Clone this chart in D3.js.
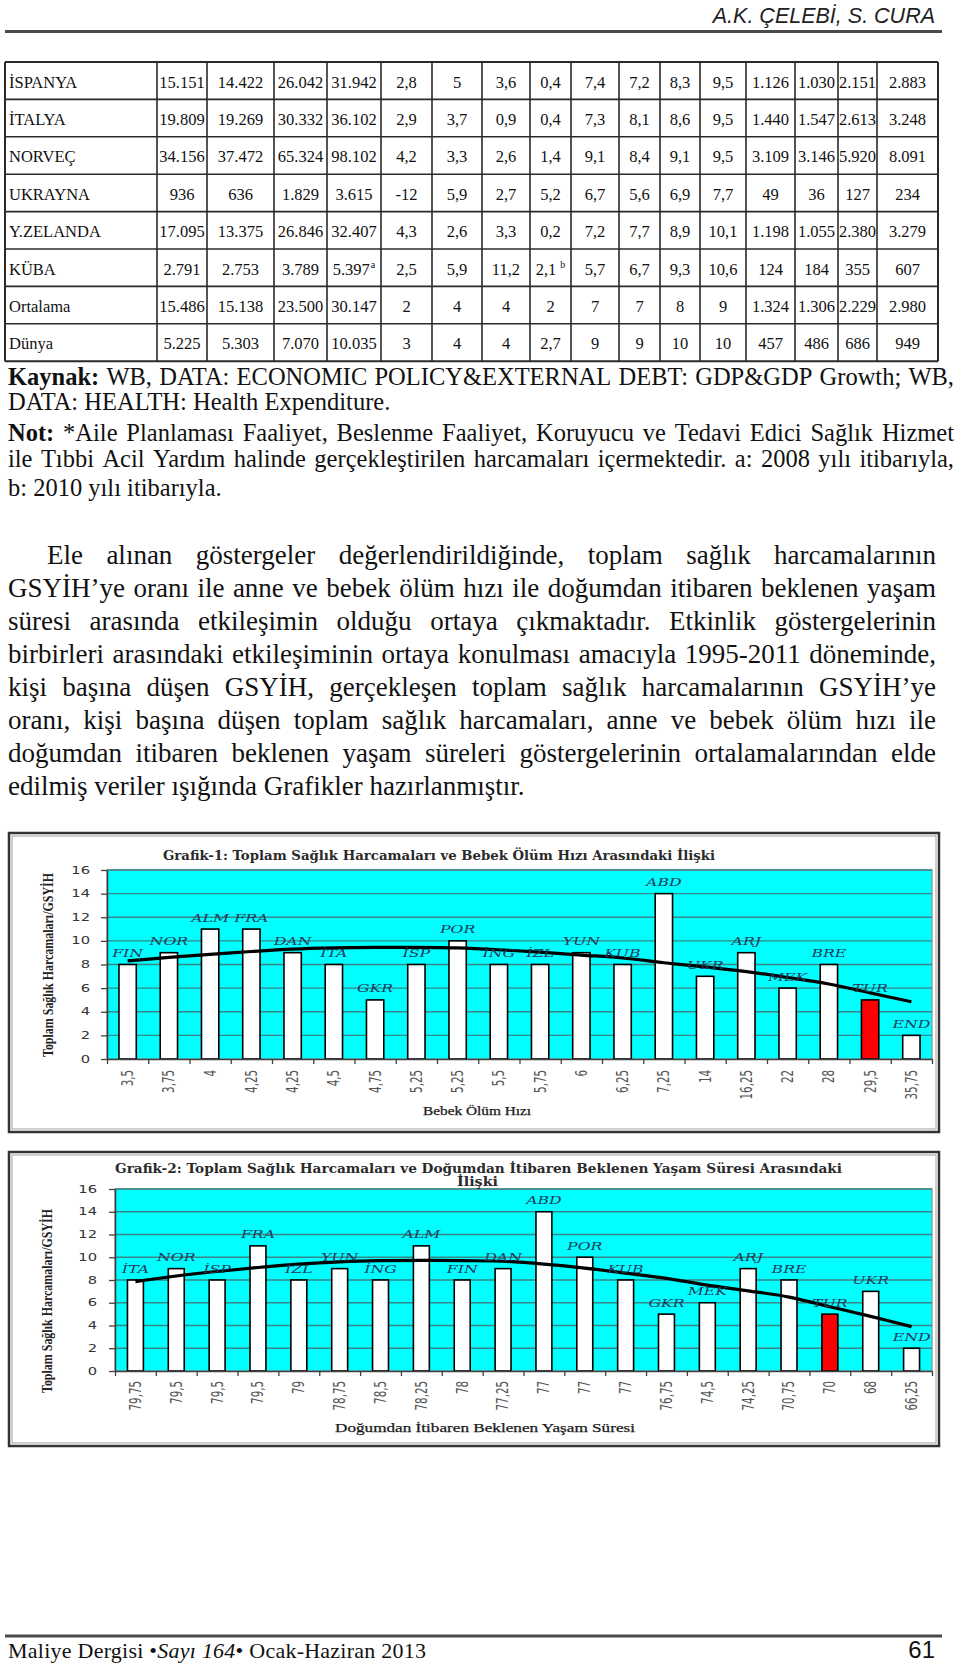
<!DOCTYPE html>
<html><head><meta charset="utf-8">
<script src="https://cdn.jsdelivr.net/npm/d3@7"></script>
<style>
body{margin:0;background:#fff;}
#page{position:relative;width:960px;height:1668px;overflow:hidden;background:#fff;}
</style></head>
<body><div id="page"></div>
<script>
// ---------------- DATA ----------------
const headerText = "A.K. ÇELEBİ, S. CURA";
const tableCountries = ["İSPANYA","İTALYA","NORVEÇ","UKRAYNA","Y.ZELANDA","KÜBA","Ortalama","Dünya"];
const tableRows = [
 ["15.151","14.422","26.042","31.942","2,8","5","3,6","0,4","7,4","7,2","8,3","9,5","1.126","1.030","2.151","2.883"],
 ["19.809","19.269","30.332","36.102","2,9","3,7","0,9","0,4","7,3","8,1","8,6","9,5","1.440","1.547","2.613","3.248"],
 ["34.156","37.472","65.324","98.102","4,2","3,3","2,6","1,4","9,1","8,4","9,1","9,5","3.109","3.146","5.920","8.091"],
 ["936","636","1.829","3.615","-12","5,9","2,7","5,2","6,7","5,6","6,9","7,7","49","36","127","234"],
 ["17.095","13.375","26.846","32.407","4,3","2,6","3,3","0,2","7,2","7,7","8,9","10,1","1.198","1.055","2.380","3.279"],
 ["2.791","2.753","3.789","5.397|a","2,5","5,9","11,2","2,1|b","5,7","6,7","9,3","10,6","124","184","355","607"],
 ["15.486","15.138","23.500","30.147","2","4","4","2","7","7","8","9","1.324","1.306","2.229","2.980"],
 ["5.225","5.303","7.070","10.035","3","4","4","2,7","9","9","10","10","457","486","686","949"]
];
const noteLines = [
 [{b:true,t:"Kaynak:"},{t:" WB, DATA: ECONOMIC POLICY&EXTERNAL DEBT: GDP&GDP Growth; WB,"}],
 [{t:"DATA: HEALTH: Health Expenditure."}],
 [{b:true,t:"Not:"},{t:" *Aile Planlaması Faaliyet, Beslenme Faaliyet, Koruyucu ve Tedavi Edici Sağlık Hizmet"}],
 [{t:"ile Tıbbi Acil Yardım halinde gerçekleştirilen harcamaları içermektedir. a: 2008 yılı itibarıyla,"}],
 [{t:"b: 2010 yılı itibarıyla."}]
];
const paraLines = [
 "Ele alınan göstergeler değerlendirildiğinde, toplam sağlık harcamalarının",
 "GSYİH’ye oranı ile anne ve bebek ölüm hızı ile doğumdan itibaren beklenen yaşam",
 "süresi arasında etkileşimin olduğu ortaya çıkmaktadır. Etkinlik göstergelerinin",
 "birbirleri arasındaki etkileşiminin ortaya konulması amacıyla 1995-2011 döneminde,",
 "kişi başına düşen GSYİH, gerçekleşen toplam sağlık harcamalarının GSYİH’ye",
 "oranı, kişi başına düşen toplam sağlık harcamaları, anne ve bebek ölüm hızı ile",
 "doğumdan itibaren beklenen yaşam süreleri göstergelerinin ortalamalarından elde",
 "edilmiş veriler ışığında Grafikler hazırlanmıştır."
];
const g1Title = "Grafik-1: Toplam Sağlık Harcamaları ve Bebek Ölüm Hızı Arasındaki İlişki";
const g1Countries = ["FIN","NOR","ALM","FRA","DAN","İTA","GKR","İSP","POR","İNG","İZL","YUN","KUB","ABD","UKR","ARJ","MEK","BRE","TUR","END"];
const g1Rates = ["3,5","3,75","4","4,25","4,25","4,5","4,75","5,25","5,25","5,5","5,75","6","6,25","7,25","14","16,25","22","28","29,5","35,75"];
const g1Spending = [8,9,11,11,9,8,5,8,10,8,8,9,8,14,7,9,6,8,5,2];
const g1Trend = [8.3,8.6,8.85,9.1,9.3,9.4,9.45,9.45,9.4,9.25,9.05,8.8,8.55,8.15,7.8,7.4,6.9,6.35,5.6,4.85];
const g1XTitle = "Bebek Ölüm Hızı";
const g2Title = ["Grafik-2: Toplam Sağlık Harcamaları ve Doğumdan İtibaren Beklenen Yaşam Süresi Arasındaki","İlişki"];
const g2Countries = ["İTA","NOR","İSP","FRA","İZL","YUN","İNG","ALM","FIN","DAN","ABD","POR","KUB","GKR","MEK","ARJ","BRE","TUR","UKR","END"];
const g2LifeExp = ["79,75","79,5","79,5","79,5","79","78,75","78,5","78,25","78","77,25","77","77","77","76,75","74,5","74,25","70,75","70","68","66,25"];
const g2Spending = [8,9,8,11,8,9,8,11,8,9,14,10,8,5,6,9,8,5,7,2];
const g2Trend = [7.85,8.35,8.75,9.1,9.4,9.6,9.7,9.72,9.7,9.65,9.4,9.05,8.6,8.15,7.55,7.05,6.5,5.65,4.8,3.9];
const g2XTitle = "Doğumdan İtibaren Beklenen Yaşam Süresi";
const yTitle = "Toplam Sağlık Harcamaları/GSYİH";
const yTicks = [0,2,4,6,8,10,12,14,16];
const footerParts = [{t:"Maliye Dergisi "},{t:"•"},{i:true,t:"Sayı 164"},{t:"•"},{t:" Ocak-Haziran 2013"}];
const pageNo = "61";

// ---------------- DRAW ----------------
const W=960,H=1668;
const SERIF='"Liberation Serif","Times New Roman",serif';
const SANS='"Liberation Sans",Arial,sans-serif';
const VERD='"DejaVu Sans",Verdana,sans-serif';
const DSERIF='"DejaVu Serif",Georgia,serif';
const SX=1.5;
const svg=d3.select('#page').append('svg').attr('width',W).attr('height',H);

// header
svg.append('text').attr('x',935).attr('y',23).attr('text-anchor','end')
  .attr('font-family',SANS).attr('font-style','italic').attr('font-size',21.5).attr('fill','#222').text(headerText);
svg.append('line').attr('x1',5).attr('x2',942).attr('y1',31.5).attr('y2',31.5).attr('stroke','#4a4a4a').attr('stroke-width',3);

// table
const colX=[5,157,207,274,327,381,432,482,530,571,619,660,700,746,795,838,877,938];
const tTop=62,rowH=37.4,nR=tableCountries.length;
const tg=svg.append('g');
d3.range(nR+1).forEach(i=>{
  tg.append('line').attr('x1',colX[0]).attr('x2',colX[colX.length-1])
    .attr('y1',tTop+i*rowH).attr('y2',tTop+i*rowH).attr('stroke','#2a2a2a').attr('stroke-width',(i==0||i==nR)?2:1.6);
});
colX.forEach((cx,j)=>{
  tg.append('line').attr('x1',cx).attr('x2',cx).attr('y1',tTop).attr('y2',tTop+nR*rowH)
    .attr('stroke','#2a2a2a').attr('stroke-width',(j==0||j==colX.length-1)?2:1.6);
});
tableCountries.forEach((c,i)=>{
  const by=tTop+i*rowH+25.5;
  tg.append('text').attr('x',colX[0]+4).attr('y',by).attr('font-family',SERIF).attr('font-size',16.5).attr('fill','#111').text(c);
  tableRows[i].forEach((v,j)=>{
    const cx=(colX[j+1]+colX[j+2])/2;
    const t=tg.append('text').attr('x',cx).attr('y',by).attr('text-anchor','middle')
      .attr('font-family',SERIF).attr('font-size',16.5).attr('fill','#111');
    const p=v.split('|');
    t.append('tspan').text(p[0]);
    if(p[1]){
      t.append('tspan').attr('font-size',10).attr('dy',-7).attr('dx',p[1]=='b'?4:1).text(p[1]);
    }
  });
});

// justified lines: words placed individually
const meas=svg.append('text').attr('x',-2000).attr('y',-2000).attr('font-family',SERIF);
function wlen(s,size,b,i){
  meas.attr('font-size',size).attr('font-weight',b?'bold':'normal').attr('font-style',i?'italic':'normal').text(s);
  return meas.node().getComputedTextLength();
}
function textLine(x,y,w,parts,size,justify){
  const words=[];
  parts.forEach(p=>p.t.split(' ').forEach(s=>{if(s)words.push({s,b:p.b,i:p.i});}));
  const space=wlen('a a',size)-wlen('aa',size);
  words.forEach(d=>d.w=wlen(d.s,size,d.b,d.i));
  const sum=d3.sum(words,d=>d.w);
  let gap=justify?(w-sum)/(words.length-1):space;
  gap=Math.max(gap,space*0.5);
  const t=svg.append('text').attr('y',y).attr('font-family',SERIF).attr('font-size',size).attr('fill','#111');
  let cx=x;
  words.forEach(d=>{
    t.append('tspan').attr('x',cx).attr('font-weight',d.b?'bold':null).attr('font-style',d.i?'italic':null).text(d.s);
    cx+=d.w+gap;
  });
}
const noteBase=[385,410,441,467,496];
noteLines.forEach((l,i)=>textLine(8,noteBase[i],946,l,24.5,i!=1&&i!=4));
paraLines.forEach((l,i)=>{
  const x=i==0?47:8;
  textLine(x,564+i*33,936-x,[{t:l}],27,i<paraLines.length-1);
});
meas.remove();

// charts
function drawChart(c){
  const g=svg.append('g');
  g.append('rect').attr('x',c.box[0]).attr('y',c.box[1]).attr('width',c.box[2]-c.box[0]).attr('height',c.box[3]-c.box[1])
    .attr('fill','#fff').attr('stroke','#333').attr('stroke-width',2.5);
  g.append('rect').attr('x',c.box[0]+3).attr('y',c.box[1]+3).attr('width',c.box[2]-c.box[0]-6).attr('height',c.box[3]-c.box[1]-6)
    .attr('fill','none').attr('stroke','#a0a0a0').attr('stroke-width',1);
  const n=c.countries.length;
  const x=d3.scaleBand().domain(d3.range(n)).range([c.x0,c.x1]).paddingInner(1-c.bar).paddingOuter((1-c.bar)/2);
  const xb=d3.scaleLinear().domain([0,n]).range([c.x0,c.x1]);
  const y=d3.scaleLinear().domain([0,16]).range([c.y0,c.yTop]);
  const cx=i=>x(i)+x.bandwidth()/2;
  g.append('rect').attr('x',c.x0).attr('y',c.yTop).attr('width',c.x1-c.x0).attr('height',c.y0-c.yTop)
    .attr('fill','#00ffff').attr('stroke','#8c8c8c').attr('stroke-width',1.2);
  g.selectAll('line.grid').data(yTicks.filter(d=>d>0)).join('line').attr('class','grid')
    .attr('x1',c.x0).attr('x2',c.x1).attr('y1',d=>y(d)).attr('y2',d=>y(d))
    .attr('stroke','#3a8585').attr('stroke-width',1.4);
  g.selectAll('rect.bar').data(c.values).join('rect').attr('class','bar')
    .attr('x',(d,i)=>x(i)).attr('y',d=>y(d)).attr('width',x.bandwidth()).attr('height',d=>c.y0-y(d))
    .attr('fill',(d,i)=>c.countries[i]==='TUR'?'#ff0000':'#ffffff').attr('stroke','#000').attr('stroke-width',1.6);
  const line=d3.line().x((d,i)=>cx(i)).y(d=>y(d)).curve(d3.curveCatmullRom);
  g.append('path').attr('d',line(c.trend)).attr('fill','none').attr('stroke','#000').attr('stroke-width',3.2);
  g.selectAll('text.cl').data(c.countries).join('text').attr('class','cl')
    .attr('transform',(d,i)=>`translate(${cx(i)},${y(c.values[i])-7.5}) scale(${SX},1)`)
    .attr('text-anchor','middle').attr('font-family',DSERIF).attr('font-style','italic').attr('font-size',10.5)
    .attr('fill','#1e3a5a').text(d=>d);
  const ya=g.append('g').attr('transform',`translate(${c.x0},0)`)
    .call(d3.axisLeft(y).tickValues(yTicks).tickSize(6).tickSizeOuter(0).tickFormat(''));
  ya.select('path').attr('stroke','#404040').attr('stroke-width',1.6);
  ya.selectAll('line').attr('stroke','#404040').attr('stroke-width',1.3);
  g.selectAll('text.yl').data(yTicks).join('text').attr('class','yl')
    .attr('transform',d=>`translate(${c.x0-c.ylOff},${y(d)}) scale(${SX},1)`)
    .attr('dy','0.36em').attr('text-anchor','end').attr('font-family',VERD).attr('font-size',9.8).attr('fill','#333').text(d=>d);
  const xa=g.append('g').attr('transform',`translate(0,${c.y0})`)
    .call(d3.axisBottom(xb).tickValues(d3.range(n+1)).tickSize(5).tickSizeOuter(0).tickFormat(''));
  xa.select('path').attr('stroke','#404040').attr('stroke-width',1.6);
  xa.selectAll('line').attr('stroke','#404040').attr('stroke-width',1.3);
  g.selectAll('text.xl').data(c.xLabels).join('text').attr('class','xl')
    .attr('transform',(d,i)=>`translate(${cx(i)},${c.y0+c.xlOff}) scale(${SX},1) rotate(-90)`)
    .attr('dy','0.35em').attr('text-anchor','end').attr('font-family',VERD).attr('font-size',10.3).attr('fill','#555').text(d=>d);
  c.titles.forEach(tt=>{
    g.append('text').attr('x',tt.x).attr('y',tt.y).attr('textLength',tt.w).attr('lengthAdjust','spacingAndGlyphs')
      .attr('font-family',DSERIF).attr('font-weight','bold').attr('font-size',12.5).attr('fill','#2a2a2a').text(tt.t);
  });
  g.append('text').attr('x',c.xt.cx-c.xt.w/2).attr('y',c.xt.y).attr('textLength',c.xt.w).attr('lengthAdjust','spacingAndGlyphs')
    .attr('font-family',SERIF).attr('font-size',12.5).attr('fill','#1a1a1a').attr('stroke','#1a1a1a').attr('stroke-width',0.25).text(c.xt.t);
  g.append('text').attr('transform',`translate(${c.yt.x},${c.yt.y}) rotate(-90)`).attr('text-anchor','middle')
    .attr('textLength',184).attr('lengthAdjust','spacingAndGlyphs')
    .attr('font-family',SERIF).attr('font-weight','bold').attr('font-size',14.5).attr('fill','#222').text(yTitle);
}

drawChart({box:[9,833,939,1132],x0:107,x1:932,yTop:870,y0:1059,bar:0.42,ylOff:17,xlOff:11,
  countries:g1Countries,xLabels:g1Rates,values:g1Spending,trend:g1Trend,
  titles:[{t:g1Title,x:163,y:860,w:552}],
  xt:{t:g1XTitle,cx:477,y:1115,w:108},yt:{x:53,y:965}});
drawChart({box:[9,1152,939,1446],x0:115,x1:932,yTop:1189,y0:1371,bar:0.39,ylOff:18,xlOff:10,
  countries:g2Countries,xLabels:g2LifeExp,values:g2Spending,trend:g2Trend,
  titles:[{t:g2Title[0],x:115,y:1173,w:727},{t:g2Title[1],x:457,y:1186,w:41}],
  xt:{t:g2XTitle,cx:485,y:1432,w:300},yt:{x:52,y:1301}});

// footer
svg.append('line').attr('x1',5).attr('x2',942).attr('y1',1636).attr('y2',1636).attr('stroke','#4a4a4a').attr('stroke-width',3);
const ft=svg.append('text').attr('x',8).attr('y',1658).attr('font-family',SERIF).attr('font-size',22).attr('fill','#111')
  .attr('textLength',418).attr('lengthAdjust','spacing');
footerParts.forEach(p=>ft.append('tspan').attr('font-style',p.i?'italic':null).text(p.t));
svg.append('text').attr('x',935).attr('y',1658).attr('text-anchor','end').attr('font-family',SANS).attr('font-size',24).attr('fill','#111').text(pageNo);
</script>
</body></html>
